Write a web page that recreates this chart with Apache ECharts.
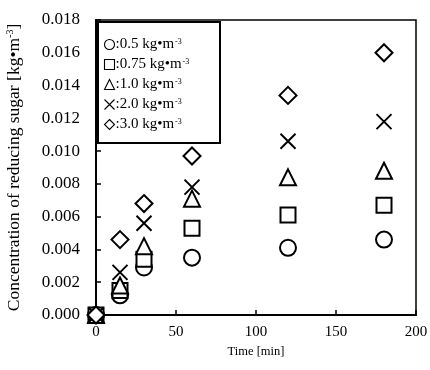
<!DOCTYPE html>
<html><head><meta charset="utf-8">
<script src="https://cdn.jsdelivr.net/npm/echarts@6/dist/echarts.min.js"></script>
<style>html,body{margin:0;padding:0;background:#fff}#c{width:430px;height:370px}</style>
</head><body><div id="c"></div>
<script>
const times = [0, 15, 30, 60, 120, 180];
const c05 = [0, 0.0012, 0.0029, 0.0035, 0.0041, 0.0046];
const c075 = [0, 0.0015, 0.0034, 0.0053, 0.0061, 0.0067];
const c10 = [0, 0.0018, 0.0042, 0.0071, 0.0084, 0.0088];
const c20 = [0, 0.0026, 0.0056, 0.0078, 0.0106, 0.0118];
const c30 = [0, 0.0046, 0.0068, 0.0097, 0.0134, 0.0160];
const seriesNames = ['0.5', '0.75', '1.0', '2.0', '3.0'];
const yTicks = [0, 0.002, 0.004, 0.006, 0.008, 0.010, 0.012, 0.014, 0.016, 0.018];
const xTicks = [0, 50, 100, 150, 200];

const FONT = '"Liberation Serif", "DejaVu Serif", serif';
const values = [c05, c075, c10, c20, c30];
const symbols = ['circle', 'rect', 'triangle', 'path://M0,0L10,10M10,0L0,10', 'diamond'];
const sizes = [16, 15, 16, 15, 17];

const series = values.map((v, i) => ({
  name: seriesNames[i],
  type: 'scatter',
  clip: false,
  symbol: symbols[i],
  symbolSize: sizes[i],
  data: times.map((t, j) => [t, v[j]]),
  itemStyle: { color: i === 3 ? 'none' : '#fff', borderColor: '#000', borderWidth: 2, opacity: 1 },
  z: 3 + i
}));

const chart = echarts.init(document.getElementById('c'), null, { renderer: 'canvas' });
chart.setOption({
  animation: false,
  backgroundColor: '#fff',
  grid: { left: 96, right: 14, top: 20, bottom: 55, outerBoundsMode: 'none', containLabel: false, show: true, borderColor: '#000', borderWidth: 1.5, backgroundColor: 'transparent' },
  graphic: [{
    type: 'rect', left: 97, top: 21, z: 20,
    shape: { width: 122, height: 121 },
    style: { fill: '#fff', stroke: '#000', lineWidth: 2 }
  }],
  legend: {
    orient: 'vertical',
    left: 102, top: 37, z: 30,
    padding: 0,
    itemWidth: 10, itemHeight: 10, itemGap: 5,
    data: seriesNames,
    formatter: n => '{a|:' + n + ' kg•m}{s|-3}',
    itemStyle: { borderWidth: 1.1 },
    textStyle: {
      fontFamily: FONT, fontSize: 15, color: '#000', padding: [0, 0, 0, -4],
      rich: {
        a: { fontFamily: FONT, fontSize: 15, color: '#000', lineHeight: 14 },
        s: { fontFamily: FONT, fontSize: 8, color: '#000', lineHeight: 8, verticalAlign: 'top', padding: [0, 0, 0, 1] }
      }
    }
  },
  xAxis: {
    type: 'value', min: 0, max: 200, interval: 50,
    name: 'Time [min]', nameLocation: 'middle', nameGap: 29,
    nameTextStyle: { fontFamily: FONT, fontSize: 12.5, color: '#000' },
    axisLine: { show: true, lineStyle: { color: '#000', width: 2 } },
    axisTick: { inside: true, length: 5, lineStyle: { color: '#000', width: 1.5 } },
    axisLabel: { fontFamily: FONT, fontSize: 15, color: '#000', margin: 10, formatter: v => xTicks.includes(v) ? String(v) : '' },
    splitLine: { show: false }
  },
  yAxis: {
    type: 'value', min: 0, max: 0.018, interval: 0.002,
    name: '{a|Concentration of reducing sugar [kg•m}{s|-3}{a|]}',
    nameLocation: 'middle', nameGap: 73, nameRotate: 90,
    nameTextStyle: {
      rich: {
        a: { fontFamily: FONT, fontSize: 17.5, color: '#000', lineHeight: 18 },
        s: { fontFamily: FONT, fontSize: 10, color: '#000', lineHeight: 10, verticalAlign: 'top' }
      }
    },
    axisLine: { show: true, lineStyle: { color: '#000', width: 2 } },
    axisTick: { inside: true, length: 5, lineStyle: { color: '#000', width: 1.5 } },
    axisLabel: { fontFamily: FONT, fontSize: 17, color: '#000', margin: 16, formatter: v => yTicks.some(t => Math.abs(t - v) < 1e-9) ? v.toFixed(3) : '' },
    splitLine: { show: false }
  },
  series: series
});
</script></body></html>
